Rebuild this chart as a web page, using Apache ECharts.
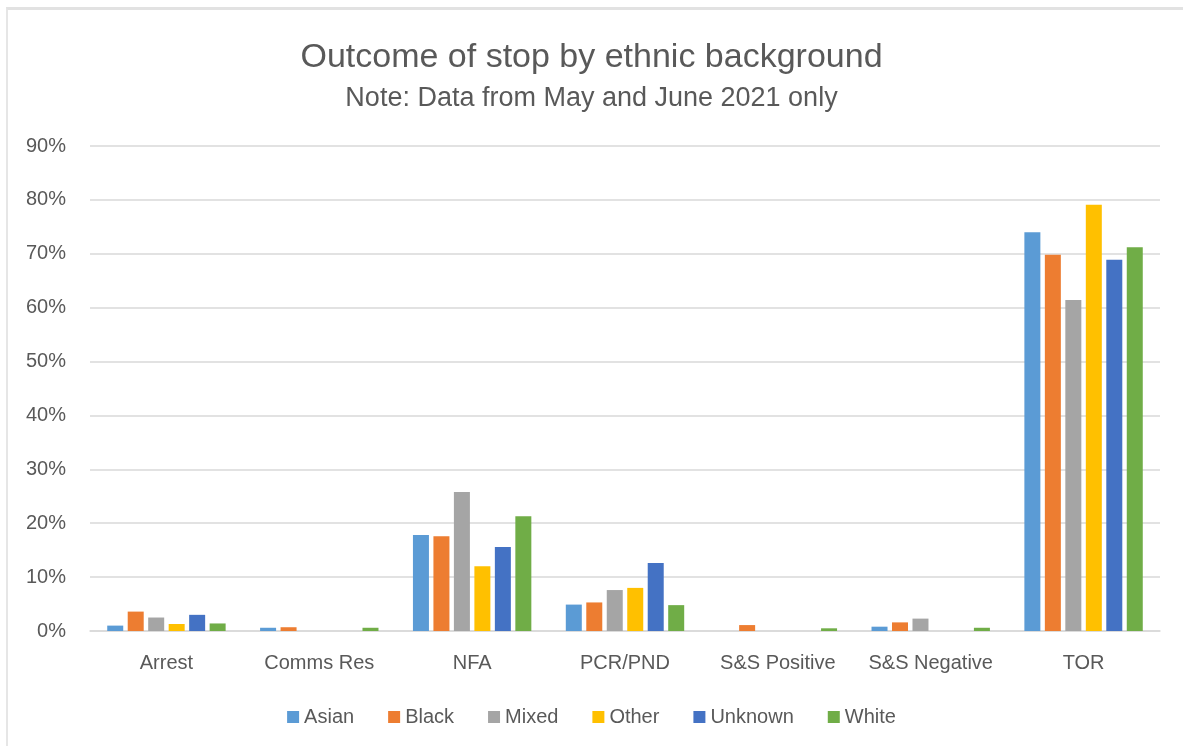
<!DOCTYPE html>
<html>
<head>
<meta charset="utf-8">
<script src="https://cdn.jsdelivr.net/npm/echarts@6/dist/echarts.min.js"></script>
<style>
  html, body { margin: 0; padding: 0; background: #fff; }
  #frame { position: absolute; left: 6px; top: 7px; right: 0; bottom: 0;
           border-top: 3px solid #e2e2e2; border-left: 2px solid #e6e6e6; }
  #chart { position: absolute; left: 0; top: 0; width: 1183px; height: 746px; }
</style>
</head>
<body>
<div id="frame"></div>
<div id="chart"></div>
<script>
// categories and values (percent)
var categories = ['Arrest', 'Comms Res', 'NFA', 'PCR/PND', 'S&S Positive', 'S&S Negative', 'TOR'];
var asian   = [1.0, 0.6, 17.8, 4.9, 0,   0.8, 74.0];
var black   = [3.6, 0.7, 17.6, 5.3, 1.1, 1.6, 69.8];
var mixed   = [2.5, 0,   25.8, 7.6, 0,   2.3, 61.4];
var other   = [1.3, 0,   12.0, 8.0, 0,   0,   79.1];
var unknown = [3.0, 0,   15.6, 12.6, 0,  0,   68.9];
var white   = [1.4, 0.6, 21.3, 4.8, 0.5, 0.6, 71.2];

var seriesNames = ['Asian', 'Black', 'Mixed', 'Other', 'Unknown', 'White'];
var seriesData = [asian, black, mixed, other, unknown, white];
var colors = ['#5b9bd5', '#ed7d31', '#a5a5a5', '#ffc000', '#4472c4', '#70ad47'];

var font = 'Liberation Sans';

var myChart = echarts.init(document.getElementById('chart'), null, { renderer: 'canvas' });

var option = {
  backgroundColor: 'transparent',
  title: {
    text: 'Outcome of stop by ethnic background',
    subtext: 'Note: Data from May and June 2021 only',
    left: 'center',
    top: 36,
    itemGap: 10,
    textStyle: { fontFamily: font, fontSize: 34, fontWeight: 'normal', color: '#595959' },
    subtextStyle: { fontFamily: font, fontSize: 27, color: '#595959' }
  },
  legend: {
    data: seriesNames,
    bottom: 14,
    left: 'center',
    itemWidth: 12,
    itemHeight: 12,
    itemGap: 34,
    icon: 'rect',
    textStyle: { fontFamily: font, fontSize: 20, color: '#595959' }
  },
  grid: { left: 90, right: 23, top: 146, bottom: 115 },
  xAxis: {
    type: 'category',
    data: categories,
    axisTick: { show: false },
    axisLine: { lineStyle: { color: '#d9d9d9', width: 1.5 } },
    axisLabel: { fontFamily: font, fontSize: 20, color: '#595959', margin: 22, interval: 0 }
  },
  yAxis: {
    type: 'value',
    min: 0,
    max: 90,
    interval: 10,
    axisLine: { show: false },
    axisTick: { show: false },
    splitLine: { lineStyle: { color: '#d9d9d9', width: 1.5 } },
    axisLabel: { fontFamily: font, fontSize: 20, color: '#595959', margin: 24, formatter: '{value}%' }
  },
  series: seriesNames.map(function (name, i) {
    return {
      name: name,
      type: 'bar',
      data: seriesData[i],
      barWidth: 16,
      barGap: '28%',
      itemStyle: { color: colors[i] }
    };
  })
};

myChart.setOption(option);
</script>
</body>
</html>
